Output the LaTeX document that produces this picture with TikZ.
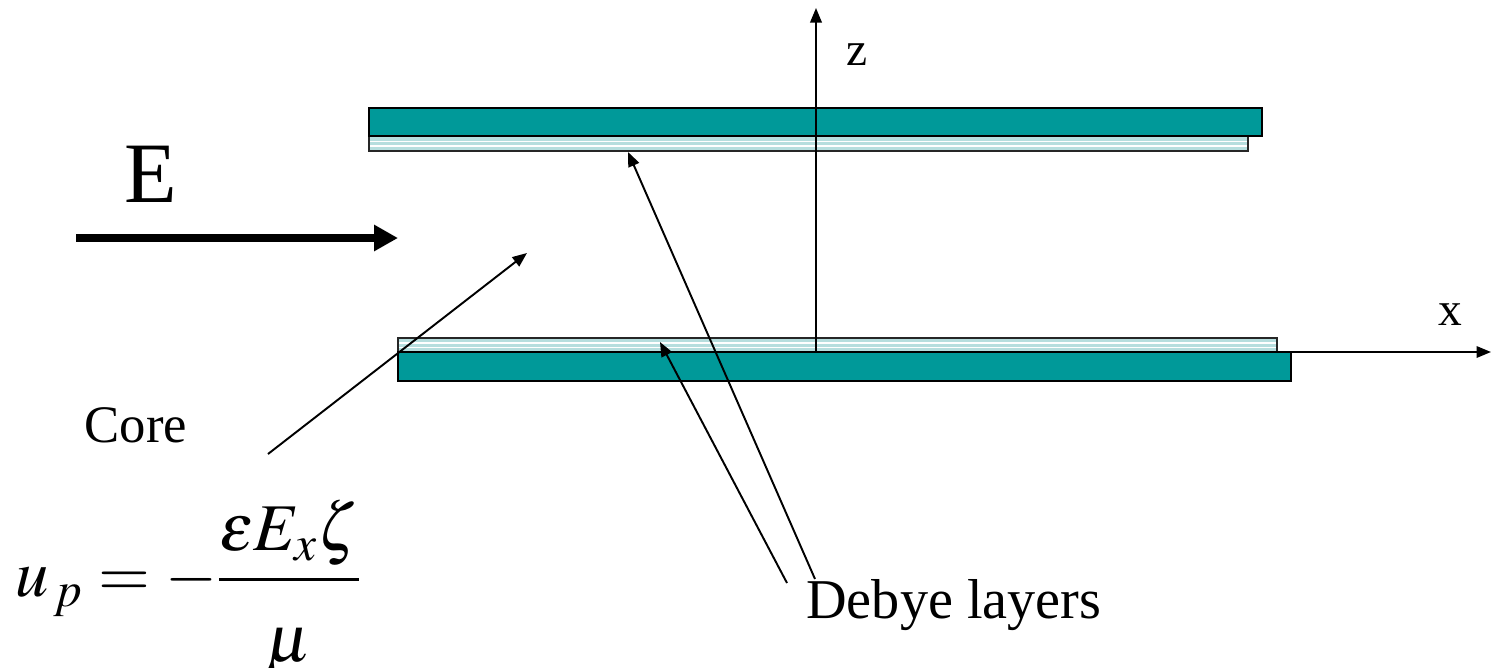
\documentclass[tikz,border=0pt]{standalone}
\usepackage{mathptmx}
\usepackage{fontspec}
\setmainfont{Liberation Serif}
\usetikzlibrary{arrows.meta,calc,positioning}
\definecolor{plateteal}{RGB}{0,153,153}
\definecolor{debyeblue}{RGB}{182,222,222}

\begin{document}
\begin{tikzpicture}[x=0.02cm,y=-0.02cm,
  plate/.style={fill=plateteal,draw=black,line width=1.6pt},
  layer/.style={fill=debyeblue,draw=black!85,line width=1.1pt},
  stripe/.style={white,line width=0.9pt},
  pointer/.style={line width=1.1pt,-{Triangle[length=0.29cm,width=0.23cm]}},
  bigtext/.style={inner sep=0pt,anchor=base,font=\fontsize{30}{36}\selectfont}]
\useasboundingbox (0,0) rectangle (1492,667);

\coordinate (origin) at (816,352);

\draw[layer] (369,136) rectangle (1248,151);
\foreach \y in {141.5,146} \draw[stripe] (370,\y) -- (1247,\y);
\draw[plate] (369,108) rectangle (1262,136);

\draw[layer] (398,338) rectangle (1277,352);
\foreach \y in {343,347.5} \draw[stripe] (399,\y) -- (1276,\y);
\draw[plate] (398,352) rectangle (1291,381);

\coordinate (z tip) at (816,8);
\coordinate (x tip) at (1491,352);
\draw[pointer] (origin) -- (z tip);
\draw[pointer] (origin) -- (x tip);
\node[bigtext,font=\fontsize{27}{32}\selectfont] (z label) at (857,65) {z};
\node[bigtext,font=\fontsize{27}{32}\selectfont] (x label) at (1450,325) {x};

\coordinate (field tail) at (76,238);
\coordinate (field head) at (398,238);
\draw[line width=5pt,-{Triangle[length=0.48cm,width=0.5cm]}] (field tail) -- (field head);
\node[bigtext,font=\fontsize{49}{58}\selectfont] (field label) at (151,202) {E};

\node[bigtext] (core label) at (136,442) {Core};
\coordinate (core tail) at (268,454);
\coordinate (core tip) at (527,253);
\draw[pointer] (core tail) -- (core tip);

\node[bigtext,anchor=base west,font=\fontsize{32}{38}\selectfont] (debye label) at (806,618) {Debye layers};
\coordinate (debye low) at (787,583);
\coordinate (debye high) at (815,579);
\coordinate (low layer) at (660,342);
\coordinate (high layer) at (628,152);
\draw[pointer] (debye low) -- (low layer);
\draw[pointer] (debye high) -- (high layer);

\node[bigtext,anchor=base west,font=\fontsize{38}{46}\selectfont] (speed) at (15,596)
  {$u_{\,p} = -\displaystyle\frac{\varepsilon E_x\zeta}{\raisebox{-0.3em}{$\mu$}}$};
\end{tikzpicture}
\end{document}
